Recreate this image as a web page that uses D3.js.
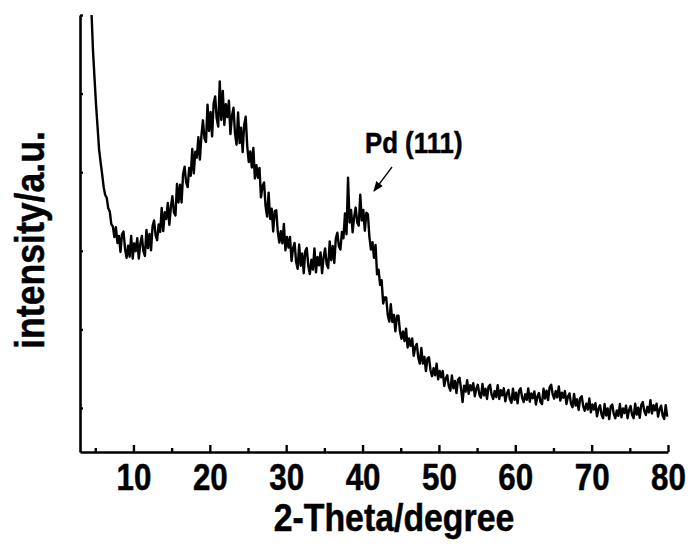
<!DOCTYPE html>
<html>
<head>
<meta charset="utf-8">
<script src="https://cdn.jsdelivr.net/npm/d3@7"></script>
<style>
  body { margin: 0; background: #fff; }
  svg text { font-family: "Liberation Sans", Arial, sans-serif; font-weight: bold; fill: #000; stroke: #000; stroke-width: 0.5; }
</style>
</head>
<body>
<div id="chart"></div>
<script>
// XRD pattern, 2-theta scan from 4.5 to 79.9 deg, step 0.2
const thetaStart = 4.5;
const thetaStep = 0.2;

// intensity (a.u.)
const intensity = [
  1210, 1110, 1040, 972, 915, 858, 825, 795, 762, 742, 735, 708, 700, 668, 662, 635,
  660, 620, 638, 597, 642, 649, 605, 582, 613, 585, 638, 580, 619, 599, 632, 580,
  618, 638, 599, 587, 653, 607, 643, 601, 662, 677, 640, 627, 667, 648, 709, 650,
  698, 681, 722, 666, 712, 739, 698, 690, 770, 723, 768, 723, 795, 814, 774, 762,
  811, 791, 859, 797, 852, 837, 889, 832, 893, 932, 886, 877, 972, 905, 953, 891,
  974, 993, 937, 916, 1031, 933, 1007, 920, 973, 940, 982, 897, 943, 964, 898, 870,
  952, 874, 913, 851, 920, 941, 866, 826, 853, 812, 862, 784, 818, 786, 811, 736,
  765, 774, 714, 687, 748, 681, 707, 649, 701, 703, 649, 621, 650, 619, 668, 601,
  635, 608, 635, 574, 606, 620, 572, 554, 616, 562, 593, 543, 599, 607, 561, 541,
  577, 552, 606, 545, 584, 563, 596, 543, 583, 606, 566, 556, 624, 576, 612, 569,
  631, 646, 612, 603, 648, 632, 695, 642, 786, 672, 704, 647, 686, 710, 672, 664,
  743, 677, 704, 651, 697, 693, 635, 603, 622, 582, 615, 540, 552, 513, 525, 466,
  481, 481, 437, 420, 464, 419, 437, 395, 434, 435, 395, 376, 395, 370, 402, 354,
  377, 358, 377, 333, 355, 363, 328, 313, 353, 313, 330, 294, 326, 329, 296, 281,
  301, 283, 313, 273, 294, 278, 294, 256, 275, 283, 255, 244, 283, 250, 269, 238,
  272, 277, 249, 215, 257, 242, 271, 236, 258, 245, 263, 230, 249, 259, 234, 226,
  261, 232, 249, 223, 254, 259, 234, 223, 243, 228, 258, 223, 245, 232, 250, 217,
  237, 246, 222, 213, 249, 221, 239, 212, 244, 250, 226, 215, 235, 221, 250, 216,
  237, 225, 242, 209, 229, 238, 215, 210, 249, 224, 244, 220, 253, 259, 235, 224,
  243, 227, 255, 219, 239, 226, 243, 210, 229, 237, 211, 202, 236, 206, 222, 195,
  225, 230, 204, 193, 211, 196, 224, 189, 209, 196, 212, 179, 198, 207, 183, 174,
  210, 181, 199, 172, 204, 209, 185, 174, 194, 180, 210, 176, 199, 187, 206, 174,
  195, 205, 182, 174, 211, 183, 201, 175, 208, 215, 192, 182, 203, 189, 220, 186,
  207, 194, 211, 178, 197, 206, 181, 172, 207, 178
];

const xTicks = [10, 20, 30, 40, 50, 60, 70, 80];
const xMinorTicks = [5, 15, 25, 35, 45, 55, 65, 75];
const yTicks = [200, 400, 600, 800, 1000, 1200];

const data = intensity.map((v, i) => ({ theta: thetaStart + i * thetaStep, value: v }));

const width = 692, height = 544;
const svg = d3.select("#chart").append("svg")
  .attr("width", width)
  .attr("height", height);

// scales
const x = d3.scaleLinear().domain([3, 80]).range([80, 668]);
const y = d3.scaleLinear().domain([88, 1200]).range([452, 15]);

// clip so the steep start gets cut at the top of the axis
svg.append("clipPath").attr("id", "plot-clip")
  .append("rect").attr("x", 80).attr("y", 15).attr("width", 600).attr("height", 440);

// the pattern
const line = d3.line().x(d => x(d.theta)).y(d => y(d.value));
svg.append("path")
  .datum(data)
  .attr("clip-path", "url(#plot-clip)")
  .attr("fill", "none")
  .attr("stroke", "#000")
  .attr("stroke-width", 2.4)
  .attr("stroke-linejoin", "round")
  .attr("d", line);

// x axis, ticks pointing in
const xAxis = svg.append("g").attr("transform", "translate(0," + 452 + ")")
  .call(d3.axisBottom(x).tickValues(xTicks).tickSizeInner(-7).tickSizeOuter(0).tickPadding(0));
xAxis.select(".domain").attr("stroke-width", 2.6);
xAxis.selectAll(".tick line").attr("stroke-width", 2.4);
// labels are a condensed bold face, so squeeze them a bit
xAxis.selectAll(".tick text")
  .attr("font-size", 36)
  .attr("font-family", null)
  .attr("y", 0).attr("dy", null)
  .attr("transform", "translate(0,38) scale(0.87,1)");

const xMinor = svg.append("g").attr("transform", "translate(0," + 452 + ")")
  .call(d3.axisBottom(x).tickValues(xMinorTicks).tickSizeInner(-4).tickSizeOuter(0).tickFormat(""));
xMinor.select(".domain").remove();
xMinor.selectAll(".tick line").attr("stroke-width", 2.4);

// y axis, short ticks, no labels
const yAxis = svg.append("g").attr("transform", "translate(80,0)")
  .call(d3.axisLeft(y).tickValues(yTicks).tickSizeInner(-3).tickSizeOuter(0).tickFormat(""));
yAxis.select(".domain").attr("stroke-width", 2.6);
yAxis.selectAll(".tick line").attr("stroke-width", 2.4);

// axis titles
svg.append("text")
  .attr("transform", "translate(394,531) scale(0.89,1)")
  .attr("text-anchor", "middle")
  .attr("font-size", 38)
  .text("2-Theta/degree");

svg.append("text")
  .attr("transform", "translate(44,240) rotate(-90) scale(0.89,1)")
  .attr("text-anchor", "middle")
  .attr("font-size", 40)
  .text("intensity/a.u.");

// peak label and arrow
svg.append("defs").append("marker")
  .attr("id", "head")
  .attr("viewBox", "0 0 10 10")
  .attr("refX", 9).attr("refY", 5)
  .attr("markerWidth", 8).attr("markerHeight", 8)
  .attr("orient", "auto")
  .append("path").attr("d", "M0,1 L10,5 L0,9 Z").attr("fill", "#000");

svg.append("line")
  .attr("x1", 392).attr("y1", 167)
  .attr("x2", 374).attr("y2", 191)
  .attr("stroke", "#000")
  .attr("stroke-width", 1.3)
  .attr("marker-end", "url(#head)");

svg.append("text")
  .attr("transform", "translate(365,153) scale(0.86,1)")
  .attr("font-size", 30)
  .text("Pd (111)");
</script>
</body>
</html>
